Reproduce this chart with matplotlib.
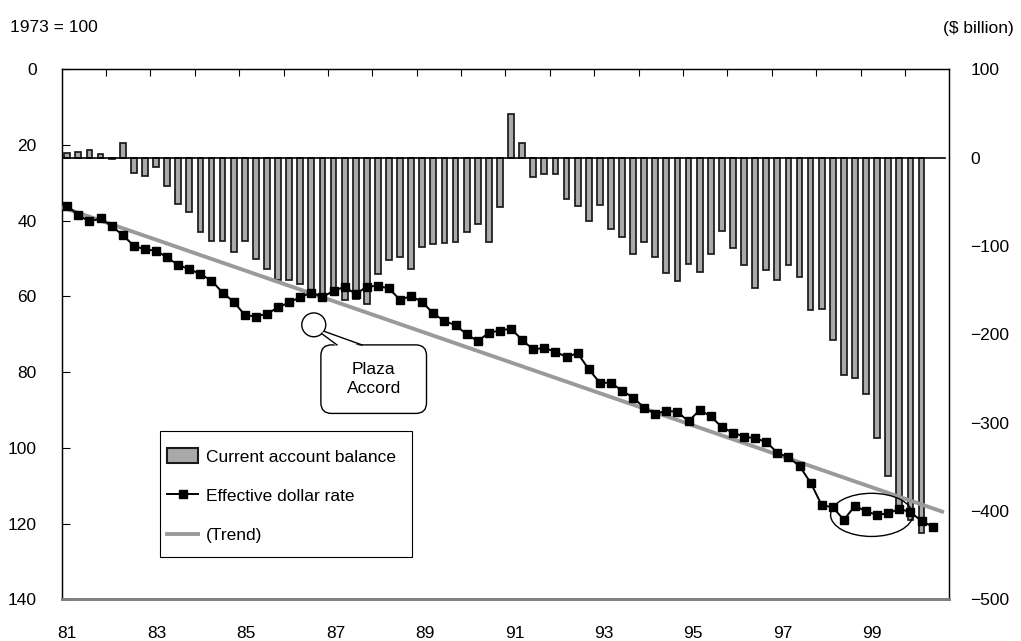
import matplotlib
matplotlib.use("Agg")
import matplotlib.pyplot as plt
import numpy as np
from matplotlib.patches import Ellipse, FancyBboxPatch, Polygon, Patch, Rectangle
from matplotlib.lines import Line2D

plt.rcParams['font.family'] = ['Liberation Sans', 'DejaVu Sans']

# ---- data -------------------------------------------------------------
start_year = 1981
# US current account balance, quarterly (annualised, $ billion), 1981Q1-2000Q2
current_account = [
    5, 6, 9, 4, -2, 16, -17, -21, -11, -32,
    -53, -62, -84, -94, -94, -107, -94, -115, -126, -138,
    -138, -143, -150, -158, -155, -161, -160, -166, -132, -116,
    -112, -126, -101, -98, -97, -95, -84, -75, -95, -56,
    49, 16, -22, -18, -19, -47, -55, -72, -54, -81,
    -90, -109, -95, -112, -131, -140, -120, -130, -109, -83,
    -102, -121, -148, -127, -138, -121, -135, -172, -171, -206,
    -246, -249, -268, -317, -360, -400, -410, -425,
]
# Effective dollar rate (1973 = 100), quarterly, 1981Q1-2000Q3
dollar_rate = [
    36.1, 38.5, 40.2, 39.4, 41.4, 43.8, 46.6, 47.6, 47.9, 49.7,
    51.7, 52.8, 54.1, 55.8, 59.0, 61.4, 64.9, 65.3, 64.6, 62.9,
    61.6, 60.2, 59.0, 60.1, 58.6, 57.4, 59.4, 57.4, 57.2, 57.9,
    60.9, 59.9, 61.5, 64.5, 66.5, 67.6, 70.0, 71.8, 69.6, 69.0,
    68.5, 71.5, 74.0, 73.6, 74.6, 76.0, 75.0, 79.2, 82.8, 82.8,
    84.9, 86.7, 89.4, 91.0, 90.2, 90.5, 93.0, 90.0, 91.7, 94.5,
    96.0, 97.0, 97.5, 98.4, 101.3, 102.5, 104.8, 109.2, 115.1, 115.7,
    119.0, 115.3, 116.8, 117.7, 117.3, 116.1, 117.0, 119.3, 120.8,
]
# Linear trend of the dollar rate (end points)
trend_years = [1981.0, 2000.88]
trend_values = [36.4, 117.0]

year_labels = ['81', '83', '85', '87', '89', '91', '93', '95', '97', '99']
left_ticks = [0, 20, 40, 60, 80, 100, 120, 140]
right_ticks = [100, 0, -100, -200, -300, -400, -500]

# quarter mid-points
ca_x = start_year + (np.arange(len(current_account)) + 0.5) / 4
rate_x = start_year + (np.arange(len(dollar_rate)) + 0.5) / 4

# ---- figure -----------------------------------------------------------
W, H = 1021, 641
fig = plt.figure(figsize=(W / 100, H / 100), dpi=100)
left_px, right_px, top_px, bottom_px = 61.7, 949.3, 69.3, 599.3
ax_w, ax_h = right_px - left_px, bottom_px - top_px
ax = fig.add_axes([left_px / W, 1 - bottom_px / H, ax_w / W, ax_h / H])
ax2 = ax.twinx()
ax.set_zorder(ax2.get_zorder() + 1)
ax.patch.set_visible(False)

ax.set_xlim(1981, 2001)
ax.set_ylim(140, 0)
ax2.set_ylim(-500, 100)

bar_color = '#a9a9a9'
ax2.bar(ca_x, current_account, width=0.13, color=bar_color,
        edgecolor='#1a1a1a', linewidth=1.25, zorder=2)
ax2.plot([1981, 2000.9], [0, 0], color='black', lw=1.2, zorder=3)

trend_color = '#9a9a9a'
ax.plot(trend_years, trend_values, color=trend_color, lw=2.8,
        solid_capstyle='butt', zorder=3)
ax.plot(rate_x, dollar_rate, color='black', lw=1.4, marker='s',
        markersize=6.3, zorder=4)

# ---- axes styling -----------------------------------------------------
label_pos = [1981 + 2 * i + 0.12 + 0.008 * 2 * i for i in range(len(year_labels))]
ax.set_xticks(label_pos)
ax.set_xticklabels(year_labels)
ax.set_xticks(np.arange(1982, 2001), minor=True)
ax.tick_params(axis='x', which='major', length=0, pad=19, labelsize=12.5)
ax.tick_params(axis='x', which='minor', top=True, bottom=False,
               direction='in', length=5, width=0.8)

ax.set_yticks(left_ticks)
ax.tick_params(axis='y', direction='in', length=6, width=0.8, pad=18,
               labelsize=12.5, right=False)
ax2.set_yticks(right_ticks)
ax2.set_yticklabels([f'{v:d}'.replace('-', '\u2212') for v in right_ticks])
ax2.tick_params(axis='y', length=0, pad=15, labelsize=12.5)

for a in (ax, ax2):
    for s in ('left', 'right', 'top'):
        a.spines[s].set_color('black')
        a.spines[s].set_linewidth(0.9)
    a.spines['bottom'].set_color('#808080')
    a.spines['bottom'].set_linewidth(2)

fig.text(10 / W, 1 - 28 / H, '1973 = 100', ha='left', va='center', fontsize=12.5)
fig.text(1014 / W, 1 - 28 / H, '($ billion)', ha='right', va='center', fontsize=12.5)

# ---- legend -----------------------------------------------------------
handles = [
    Patch(facecolor=bar_color, edgecolor='#1a1a1a', linewidth=1.5),
    Line2D([], [], color='black', lw=1.4, marker='s', markersize=6),
    Line2D([], [], color=trend_color, lw=2.8),
]
labels = ['Current account balance', 'Effective dollar rate', '(Trend)']
leg_left, leg_top, leg_right, leg_bottom = 160, 431, 412, 557
ax.add_patch(Rectangle(((leg_left - left_px) / ax_w, (bottom_px - leg_bottom) / ax_h),
                       (leg_right - leg_left) / ax_w, (leg_bottom - leg_top) / ax_h,
                       transform=ax.transAxes, facecolor='white',
                       edgecolor='black', lw=0.8, zorder=9))
leg = ax.legend(handles, labels, loc='upper left',
                bbox_to_anchor=((leg_left - left_px) / ax_w,
                                (bottom_px - 441.5) / ax_h),
                borderaxespad=0, frameon=False,
                fontsize=12.5, handlelength=1.8, handleheight=0.9,
                labelspacing=1.33, handletextpad=0.45, borderpad=0.4)
leg.set_zorder(10)

# ---- annotations ------------------------------------------------------
# ellipse around the late-1990s plateau
ax.add_patch(Ellipse((1999.25, 117.7), width=1.85, height=11.4,
                     fill=False, edgecolor='black', lw=1, zorder=5))

# Plaza Accord call-out
sx = ax_w / 20.0
sy = ax_h / 140.0
ax.add_patch(Ellipse((1986.68, 67.5), width=0.54, height=6.3,
                     facecolor='white', edgecolor='black', lw=1, zorder=5))
box = FancyBboxPatch((1986.84, 72.8), 2.38, 18.1,
                     boxstyle='round,pad=0,rounding_size=0.24',
                     mutation_aspect=sx / sy,
                     facecolor='white', edgecolor='black', lw=1, zorder=5)
ax.add_patch(box)
t1, t2 = (1986.854, 69.78), (1986.922, 69.25)
b1, b2 = (1987.203, 72.81), (1987.767, 72.81)
ax.add_patch(Polygon([t1, (b1[0], b1[1] + 0.5), (b2[0], b2[1] + 0.5), t2],
                     closed=True, facecolor='white', edgecolor='none', zorder=6))
ax.plot([t1[0], b1[0]], [t1[1], b1[1]], color='black', lw=1, zorder=7)
ax.plot([t2[0], b2[0]], [t2[1], b2[1]], color='black', lw=1, zorder=7)
ax.text(1988.03, 81.8, 'Plaza\nAccord', ha='center', va='center',
        fontsize=12.5, linespacing=1.38, zorder=8)

fig.savefig('out.png', dpi=100)
